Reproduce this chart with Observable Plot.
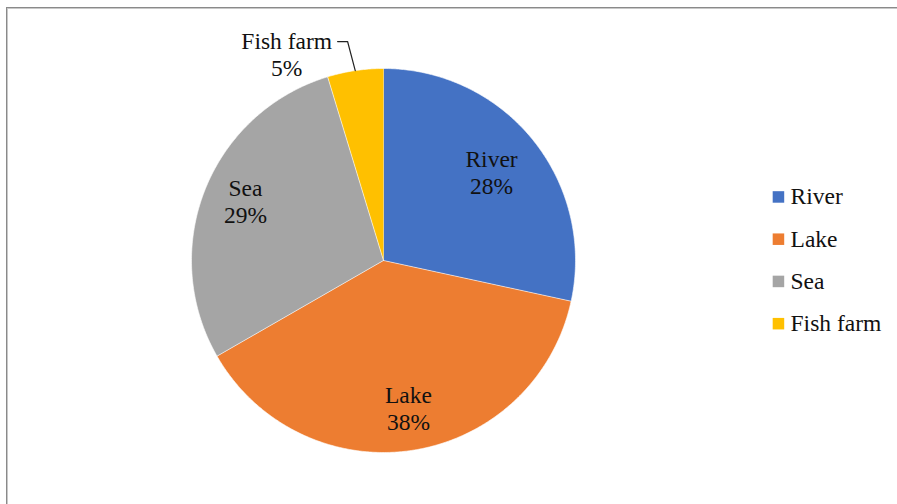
<!DOCTYPE html>
<html>
<head>
<meta charset="utf-8">
<script src="https://cdn.jsdelivr.net/npm/d3@7"></script>
<script src="https://cdn.jsdelivr.net/npm/@observablehq/plot@0.6"></script>
<style>
  html, body { margin: 0; padding: 0; background: #fff; }
  #wrap { position: relative; width: 897px; height: 504px; overflow: hidden; }
  #frame { position: absolute; left: 6px; top: 7px; width: 1000px; height: 1000px;
           border-left: 1px solid #8a8a8a; border-top: 1px solid #8a8a8a;
           box-shadow: inset 1px 1px 0 #c8c8c8; pointer-events: none; }
  svg { display: block; }
</style>
</head>
<body>
<div id="wrap"><div id="frame"></div><div id="chart"></div></div>
<script>
// ---- data ----
const categories = ["River", "Lake", "Sea", "Fish farm"];
const values = [28.4, 38.3, 28.6, 4.7];
const colors = ["#4472C4", "#ED7D31", "#A5A5A5", "#FFC000"];

// ---- layout (not data) ----
const labelRadius = [0.727, 0.779, 0.783, 1.19];
const labelAngleShiftDeg = [-0.4, -0.8, 1.7, -16.6];
const legendX = 2.057, legendTextX = 2.12, legendTopY = 0.331, legendStep = 0.22;
const FONT = 23.5;

const rows = categories.map((name, i) => ({name, value: values[i]}));
const total = d3.sum(values);
const arcs = d3.pie().sort(null).value(d => d.value)(rows);

// slice polygons (unit circle, y up, clockwise from 12 o'clock)
const slicePts = [];
arcs.forEach(a => {
  const n = Math.max(2, Math.ceil((a.endAngle - a.startAngle) / (Math.PI / 360)));
  slicePts.push({name: a.data.name, x: 0, y: 0});
  for (let k = 0; k <= n; k++) {
    const t = a.startAngle + (a.endAngle - a.startAngle) * k / n;
    slicePts.push({name: a.data.name, x: Math.sin(t), y: Math.cos(t)});
  }
});

// labels
const labels = arcs.map((a, i) => {
  const mid = (a.startAngle + a.endAngle) / 2 + labelAngleShiftDeg[i] * Math.PI / 180;
  return {
    name: a.data.name,
    text: `${a.data.name}\n${Math.round(a.data.value / total * 100)}%`,
    x: labelRadius[i] * Math.sin(mid),
    y: labelRadius[i] * Math.cos(mid),
    mid: (a.startAngle + a.endAngle) / 2
  };
});

// leader line for the outside label (Fish farm)
const ff = labels[3];
const leader = [
  {x: ff.x + 0.265, y: ff.y + 0.0625},
  {x: ff.x + 0.317, y: ff.y + 0.0625},
  {x: Math.sin(ff.mid), y: Math.cos(ff.mid)}
];

const legendRows = categories.map((name, i) => ({name, x: legendX, tx: legendTextX, y: legendTopY - i * legendStep}));

const chart = Plot.plot({
  width: 897,
  height: 504,
  x: {domain: [-1, 1], range: [191, 575], axis: null},
  y: {domain: [-1, 1], range: [452, 68], axis: null},
  color: {domain: categories, range: colors},
  style: {fontFamily: "'Liberation Serif', 'Times New Roman', serif", background: "transparent"},
  marks: [
    Plot.line(slicePts, {x: "x", y: "y", z: "name", fill: "name", stroke: "white", strokeWidth: 0.6, curve: "linear"}),
    Plot.text(labels, {x: "x", y: "y", text: "text", fontSize: FONT, lineHeight: 1.15, fill: "#111"}),
    Plot.line(leader, {x: "x", y: "y", stroke: "#222", strokeWidth: 1.2}),
    Plot.dot(legendRows, {x: "x", y: "y", fill: "name", symbol: "square", r: 6.5}),
    Plot.text(legendRows, {x: "tx", y: "y", text: "name", textAnchor: "start", fontSize: FONT, fill: "#111"})
  ]
});
document.getElementById("chart").appendChild(chart);
</script>
</body>
</html>
